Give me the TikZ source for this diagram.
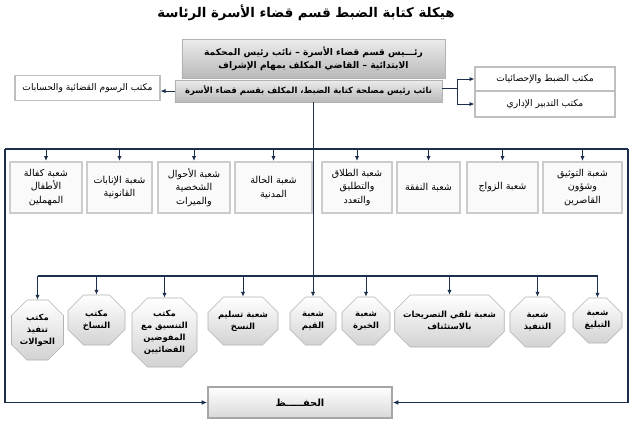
\documentclass[tikz,border=0pt]{standalone}
\usepackage{fontspec}
\usepackage{xcolor}
\usepackage{tikz}
\usetikzlibrary{shapes.misc,arrows.meta}
\newfontfamily\arabicfont[Script=Arabic]{DejaVu Sans}
\TeXXeTstate=1
\newcommand{\artxt}[1]{\beginR #1\endR}
\definecolor{framenavy}{HTML}{1B2F4B}

\begin{document}
\begin{tikzpicture}[x=0.025cm, y=-0.025cm,
  every node/.style={font=\arabicfont\fontsize{6.5}{9}\selectfont, align=center, inner sep=1pt},
  headbox/.style={rectangle, draw=gray!60, top color=gray!15, bottom color=gray!55},
  sidebox/.style={rectangle, draw=gray!50, line width=0.8pt, fill=white},
  unitbox/.style={rectangle, draw=gray!40, line width=1.5pt, fill=gray!4, font=\arabicfont\fontsize{6.8}{9.5}\selectfont},
  octbox/.style={chamfered rectangle, chamfered rectangle xsep=5pt, chamfered rectangle ysep=6pt,
    draw=gray!60, top color=white, bottom color=gray!35, font=\arabicfont\bfseries\fontsize{6}{8.5}\selectfont},
  link/.style={framenavy, line width=0.6pt, -{Latex[length=3.5pt,width=3pt]}},
  frameline/.style={framenavy, line width=1pt}]
\useasboundingbox (0,0) rectangle (640,437);

% title
\node[font=\arabicfont\bfseries\fontsize{9.5}{12}\selectfont] (title) at (306,13) {\artxt{هيكلة كتابة الضبط قسم قضاء الأسرة الرئاسة}};

% head of the section
\node[headbox, minimum width=6.575cm, minimum height=0.975cm, font=\arabicfont\bfseries\fontsize{6.5}{9}\selectfont] (head) at (313.5,58.5)
  {\artxt{رئـــيس قسم قضاء الأسرة – نائب رئيس المحكمة}\\\artxt{الابتدائية – القاضي المكلف بمهام الإشراف}};
\node[headbox, minimum width=6.675cm, minimum height=0.55cm, font=\arabicfont\bfseries\fontsize{6}{8}\selectfont] (dep) at (308.5,91)
  {\artxt{نائب رئيس مصلحة كتابة الضبط، المكلف بقسم قضاء الأسرة}};

% side offices
\node[sidebox, minimum width=3.625cm, minimum height=0.625cm] (fees) at (87.5,88) {\artxt{مكتب الرسوم القضائية والحسابات}};
\node[sidebox, minimum width=3.5cm, minimum height=0.6cm] (stat) at (545,79) {\artxt{مكتب الضبط والإحصائيات}};
\node[sidebox, minimum width=3.5cm, minimum height=0.65cm] (admin) at (545,104) {\artxt{مكتب التدبير الإداري}};

% first row
\node[unitbox, minimum width=1.8cm, minimum height=1.275cm] (b1) at (46,187.5) {\artxt{شعبة كفالة}\\\artxt{الأطفال}\\\artxt{المهملين}};
\node[unitbox, minimum width=1.625cm, minimum height=1.275cm] (b2) at (119.5,187.5) {\artxt{شعبة الإنابات}\\\artxt{القانونية}};
\node[unitbox, minimum width=1.8cm, minimum height=1.275cm] (b3) at (194,187.5) {\artxt{شعبة الأحوال}\\\artxt{الشخصية}\\\artxt{والميرات}};
\node[unitbox, minimum width=1.925cm, minimum height=1.275cm] (b4) at (273.5,187.5) {\artxt{شعبة الحالة}\\\artxt{المدنية}};
\node[unitbox, minimum width=1.75cm, minimum height=1.275cm] (b5) at (357,187.5) {\artxt{شعبة الطلاق}\\\artxt{والتطليق}\\\artxt{والتعدد}};
\node[unitbox, minimum width=1.575cm, minimum height=1.275cm] (b6) at (428.5,187.5) {\artxt{شعبة النفقة}};
\node[unitbox, minimum width=1.775cm, minimum height=1.275cm] (b7) at (502.5,187.5) {\artxt{شعبة الزواج}};
\node[unitbox, minimum width=1.975cm, minimum height=1.275cm] (b8) at (582.5,187.5) {\artxt{شعبة التوثيق}\\\artxt{وشؤون}\\\artxt{القاصرين}};

% second row
\node[octbox, minimum width=1.225cm, minimum height=1.5cm] (o1) at (37.5,330) {\artxt{مكتب}\\\artxt{تنفيذ}\\\artxt{الحوالات}};
\node[octbox, minimum width=1.425cm, minimum height=1.25cm] (o2) at (96.5,320) {\artxt{مكتب}\\\artxt{النساخ}};
\node[octbox, minimum width=1.625cm, minimum height=1.725cm] (o3) at (164.5,332.5) {\artxt{مكتب}\\\artxt{التنسيق مع}\\\artxt{المفوضين}\\\artxt{القضائيين}};
\node[octbox, minimum width=1.75cm, minimum height=1.2cm] (o4) at (243,321) {\artxt{شعبة تسليم}\\\artxt{النسخ}};
\node[octbox, minimum width=1.15cm, minimum height=1.2cm] (o5) at (313,321) {\artxt{شعبة}\\\artxt{القيم}};
\node[octbox, minimum width=1.2cm, minimum height=1.2cm] (o6) at (366,321) {\artxt{شعبة}\\\artxt{الخبرة}};
\node[octbox, minimum width=2.625cm, minimum height=1.3cm] (o7) at (449.5,321) {\artxt{شعبة تلقي التصريحات}\\\artxt{بالاستئناف}};
\node[octbox, minimum width=1.375cm, minimum height=1.25cm] (o8) at (537.5,322) {\artxt{شعبة}\\\artxt{التنفيذ}};
\node[octbox, minimum width=1.225cm, minimum height=1.125cm] (o9) at (597.5,320.5) {\artxt{شعبة}\\\artxt{التبليغ}};

% archive
\node[rectangle, draw=gray!70, line width=1.2pt, top color=white, bottom color=gray!30, minimum width=4.6cm, minimum height=0.775cm,
  font=\arabicfont\bfseries\fontsize{7}{9}\selectfont] (safe) at (300,402.5) {\artxt{الحفـــــظ}};

% connectors
\coordinate (tl) at (5,149);
\coordinate (tr) at (628,149);
\coordinate (rowtwo) at (313,276);
\coordinate (fork) at (457,88);

\draw[link] (dep.west) -- (fees.east |- dep.west);
\draw[framenavy, line width=0.6pt] (dep.east |- fork) -- (fork);
\draw[link] (fork) |- (stat.west);
\draw[link] (fork) |- (admin.west);

\draw[frameline] (tl) -- (tr);
\foreach \bx in {b1,b2,b3,b4,b5,b6,b7,b8}
  \draw[link] (\bx.north |- tl) -- (\bx.north);

\draw[link] (o5.north |- dep.south) -- (o5.north);
\draw[frameline] (o1.north |- rowtwo) -- (o9.north |- rowtwo);
\foreach \ox in {o1,o2,o3,o4,o6,o7,o8,o9}
  \draw[link] (\ox.north |- rowtwo) -- (\ox.north);

\draw[frameline, -{Latex[length=4pt,width=3.5pt]}] (tl) |- (safe.west);
\draw[frameline, -{Latex[length=4pt,width=3.5pt]}] (tr) |- (safe.east);
\end{tikzpicture}
\end{document}
